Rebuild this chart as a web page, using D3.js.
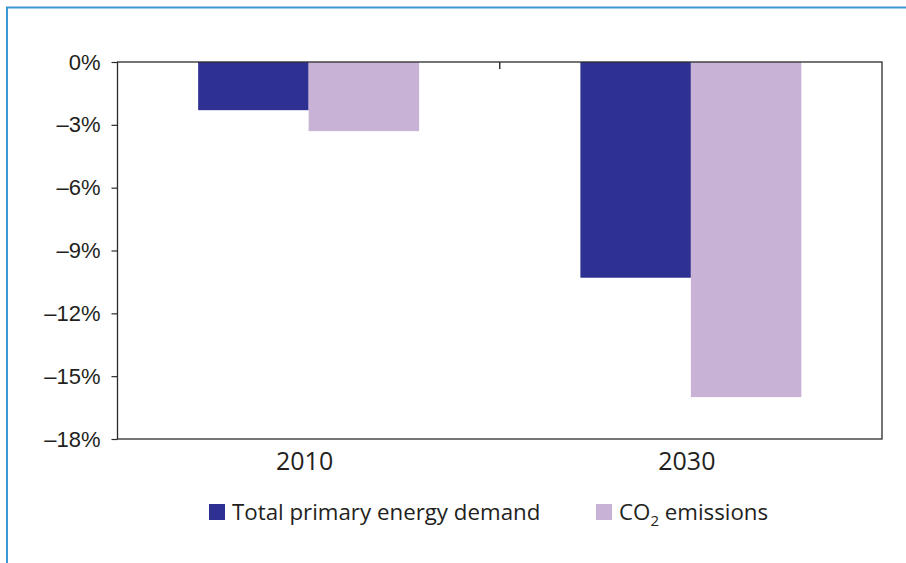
<!DOCTYPE html>
<html>
<head>
<meta charset="utf-8">
<script src="https://cdn.jsdelivr.net/npm/d3@7"></script>
<style>
  html, body { margin: 0; padding: 0; background: #fff; }
  svg { display: block; }
</style>
</head>
<body>
<svg id="chart" width="906" height="563"></svg>
<script>
// Change relative to baseline, by year
const years = ["2010", "2030"];
const seriesNames = ["Total primary energy demand", "CO\u2082 emissions"];
const energyDemand = [-2.3, -10.3];
const co2Emissions = [-3.3, -16.0];
const yTicks = [0, -3, -6, -9, -12, -15, -18];
const colors = ["#2e3192", "#c8b2d6"];

const svg = d3.select("#chart");
const W = 906, H = 563;
const margin = { left: 117.5, top: 62, right: 24, bottom: 124 };
const innerW = W - margin.left - margin.right;
const innerH = H - margin.top - margin.bottom;

// outer frame (top and left rule)
svg.append("path")
  .attr("d", `M7,${H} V7.5 H${W}`)
  .attr("fill", "none")
  .attr("stroke", "#3d97d3")
  .attr("stroke-width", 2);

const g = svg.append("g").attr("transform", `translate(${margin.left},${margin.top})`);

const y = d3.scaleLinear().domain([-18, 0]).range([innerH, 0]);
const x0 = d3.scaleBand().domain(years).range([0, innerW]).padding(0);
const x1 = d3.scaleBand().domain([0, 1]).range([0, x0.bandwidth()])
  .paddingInner(0).paddingOuter(0.73);

const rows = years.map((yr, i) => ({ year: yr, values: [energyDemand[i], co2Emissions[i]] }));

// bars
const groups = g.selectAll("g.year").data(rows).join("g")
  .attr("class", "year")
  .attr("transform", d => `translate(${x0(d.year)},0)`);
groups.selectAll("rect").data(d => d.values.map((v, k) => ({ v, k }))).join("rect")
  .attr("x", d => x1(d.k))
  .attr("width", x1.bandwidth())
  .attr("y", y(0))
  .attr("height", d => y(d.v) - y(0))
  .attr("fill", d => colors[d.k]);

// plot box
g.append("rect")
  .attr("x", 0).attr("y", 0)
  .attr("width", innerW).attr("height", innerH)
  .attr("fill", "none")
  .attr("stroke", "#2b2b2b")
  .attr("stroke-width", 1.3);

// y axis
const fmt = v => (v < 0 ? "\u2013" + Math.abs(v) : v) + "%";
const yAxis = g.append("g")
  .call(d3.axisLeft(y).tickValues(yTicks).tickFormat(fmt).tickSize(6).tickPadding(11));
yAxis.select(".domain").remove();
yAxis.selectAll(".tick line").attr("stroke", "#2b2b2b").attr("stroke-width", 1.2);
yAxis.selectAll("text")
  .attr("fill", "#231f20")
  .style("font-family", "'Liberation Sans', Arial, sans-serif")
  .style("font-size", "22px");

// category separator tick on the zero line
g.append("line")
  .attr("x1", x0(years[1])).attr("x2", x0(years[1]))
  .attr("y1", y(0)).attr("y2", y(0) + 7)
  .attr("stroke", "#2b2b2b").attr("stroke-width", 1.4);

// category labels
const xAxis = g.append("g")
  .attr("transform", `translate(0,${innerH})`)
  .call(d3.axisBottom(x0).tickSize(0).tickPadding(13));
xAxis.select(".domain").remove();
xAxis.selectAll("text")
  .attr("fill", "#231f20")
  .attr("dx", -4)
  .style("font-family", "'Open Sans', 'DejaVu Sans', sans-serif")
  .style("font-size", "25px");

// legend
const legend = svg.append("g").attr("transform", "translate(0,512)");
const legendX = [209, 596];
seriesNames.forEach((name, k) => {
  const item = legend.append("g").attr("transform", `translate(${legendX[k]},0)`);
  item.append("rect")
    .attr("x", 0).attr("y", -8).attr("width", 16).attr("height", 16)
    .attr("fill", colors[k]);
  const t = item.append("text")
    .attr("x", 23).attr("y", 8)
    .attr("fill", "#231f20")
    .style("font-family", "'Open Sans', 'DejaVu Sans', sans-serif")
    .style("font-size", "22.3px");
  if (k === 1) {
    t.append("tspan").text("CO");
    t.append("tspan").text("2").attr("dy", 6).style("font-size", "15px");
    t.append("tspan").text(" emissions").attr("dy", -6);
  } else {
    t.text(name);
  }
});
</script>
</body>
</html>
